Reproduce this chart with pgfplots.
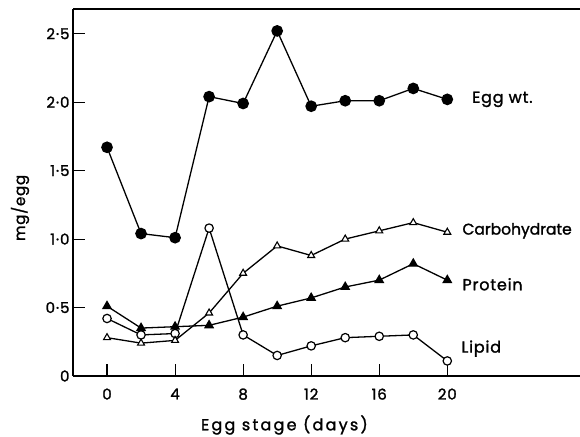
\documentclass[border=0pt]{standalone}
\usepackage{fontspec}
\setmainfont{Poppins}[FakeBold=1.5]
\newfontfamily\lab{Poppins}[LetterSpace=5,FakeBold=1.5]
\newfontfamily\labn{Poppins}[LetterSpace=0,FakeBold=1.5]
\newfontfamily\axl{Poppins}[LetterSpace=14,FakeBold=1.5]
\newfontfamily\tkl{Poppins}[LetterSpace=6,FakeBold=1.5]
\usepackage{pgfplots}
\pgfplotsset{compat=1.18}
\begin{document}
\begin{tikzpicture}
\begin{axis}[name=ax, scale only axis, width=507pt, height=367pt,
  xmin=-2, xmax=27.8, ymin=0, ymax=2.68,
  axis x line*=box, axis y line*=left,
  axis line style={line width=1.3pt},
  xtick={0,4,8,12,16,20}, xticklabels={0,4,8,12,16,20},
  ytick={0,0.5,1,1.5,2,2.5}, yticklabels={0,0·5,1·0,1·5,2·0,2·5},
  xtick pos=lower, ytick pos=left,
  tick align=inside, major tick length=12pt,
  tick style={black, line width=1.1pt},
  ticklabel style={font=\tkl\fontsize{15}{15}\selectfont},
  xticklabel style={yshift=-9pt},
  xlabel={Egg stage (days)}, ylabel={mg/egg},
  every axis x label/.style={at={(rel axis cs:0.417,0)}, yshift=-49pt, anchor=center, font=\axl\fontsize{16}{16}\selectfont},
  every axis y label/.style={at={(rel axis cs:0,0.458)}, xshift=-53pt, rotate=90, anchor=center, font=\lab\fontsize{15}{15}\selectfont},
  clip=false,
]
\addplot[black, line width=1.3pt, mark=*, mark size=5.2pt] coordinates {(0,1.67)(2,1.04)(4,1.01)(6,2.04)(8,1.99)(10,2.52)(12,1.97)(14,2.01)(16,2.01)(18,2.10)(20,2.02)};
\addplot[black, line width=1.3pt, mark=*, mark size=4.2pt, mark options={fill=white, line width=1.2pt}] coordinates {(0,0.42)(2,0.30)(4,0.31)(6,1.08)(8,0.30)(10,0.15)(12,0.22)(14,0.28)(16,0.29)(18,0.30)(20,0.11)};
\addplot[black, line width=1.3pt, mark=triangle*, mark size=4pt, mark options={fill=white, line width=1.1pt}] coordinates {(0,0.28)(2,0.24)(4,0.26)(6,0.46)(8,0.75)(10,0.95)(12,0.88)(14,1.00)(16,1.06)(18,1.12)(20,1.05)};
\addplot[black, line width=1.3pt, mark=triangle*, mark size=4.6pt] coordinates {(0,0.51)(2,0.35)(4,0.36)(6,0.37)(8,0.43)(10,0.51)(12,0.57)(14,0.65)(16,0.70)(18,0.82)(20,0.70)};
\node[anchor=west, font=\lab\fontsize{16}{16}\selectfont, inner sep=0pt] at (axis cs:21.45,2.02) {Egg wt.};
\node[anchor=west, font=\labn\fontsize{15.5}{15.5}\selectfont, inner sep=0pt] at (axis cs:20.88,1.06) {Carbohydrate};
\node[anchor=west, font=\lab\fontsize{16}{16}\selectfont, inner sep=0pt] at (axis cs:20.88,0.67) {Protein};
\node[anchor=west, font=\lab\fontsize{16}{16}\selectfont, inner sep=0pt] at (axis cs:20.82,0.20) {Lipid};
\end{axis}
\pgfresetboundingbox
\path ([shift={(-73pt,-60pt)}]ax.south west) rectangle ([shift={(0pt,9pt)}]ax.north east);
\end{tikzpicture}
\end{document}
